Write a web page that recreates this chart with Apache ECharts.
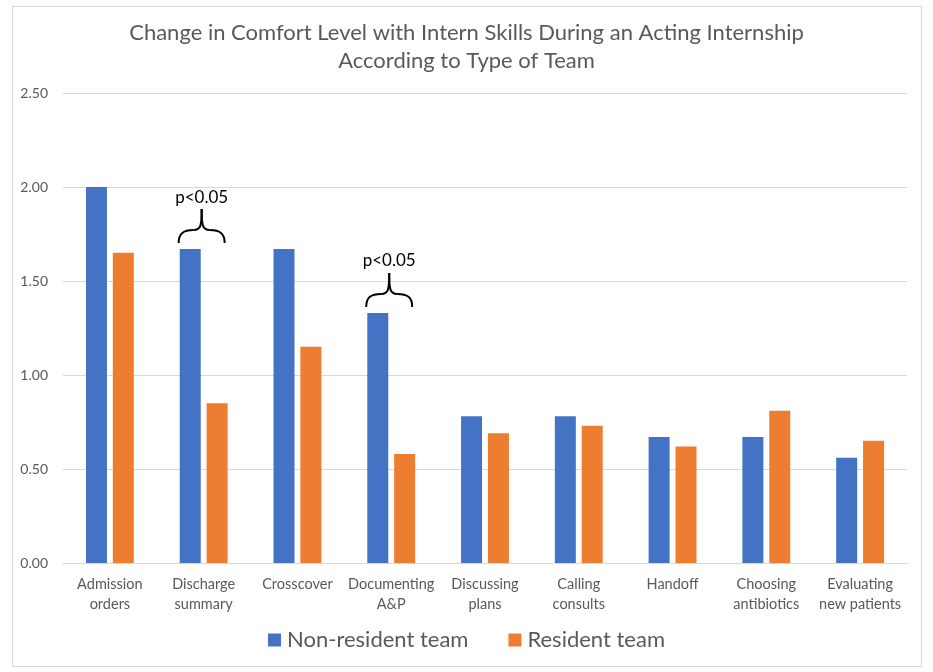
<!DOCTYPE html>
<html>
<head>
<meta charset="utf-8">
<script src="https://cdn.jsdelivr.net/npm/echarts@6/dist/echarts.min.js"></script>
<style>
html,body{margin:0;padding:0;background:#fff;}
#frame{position:absolute;left:12px;top:6px;width:910px;height:661px;border:1px solid #d9d9d9;box-sizing:border-box;}
#chart{position:absolute;left:0;top:0;width:933px;height:672px;}
</style>
</head>
<body>
<div id="frame"></div>
<div id="chart"></div>
<script>
var categories = ['Admission\norders','Discharge\nsummary','Crosscover','Documenting\nA&P','Discussing\nplans','Calling\nconsults','Handoff','Choosing\nantibiotics','Evaluating\nnew patients'];
var nonResident = [2.00, 1.67, 1.67, 1.33, 0.78, 0.78, 0.67, 0.67, 0.56];
var resident = [1.65, 0.85, 1.15, 0.58, 0.69, 0.73, 0.62, 0.81, 0.65];
var yTicks = [0, 0.5, 1.0, 1.5, 2.0, 2.5];
var annotIndex = [1, 3];
var annotText = 'p<0.05';

var FONT = 'Lato, "Open Sans", sans-serif';
var chart = echarts.init(document.getElementById('chart'), null, {renderer:'canvas'});
chart.setOption({
  animation:false,
  backgroundColor:'transparent',
  title:{
    text:'Change in Comfort Level with Intern Skills During an Acting Internship\nAccording to Type of Team',
    left:'center', top:14,
    textStyle:{fontFamily:FONT, fontSize:22, fontWeight:'normal', color:'#595959', lineHeight:28}
  },
  legend:{
    bottom:16, left:'center',
    itemWidth:13, itemHeight:13, itemGap:40,
    icon:'rect',
    textStyle:{fontFamily:FONT, fontSize:22, color:'#595959', padding:[0,0,0,1]},
    data:['Non-resident team','Resident team']
  },
  grid:{left:63, right:26, top:93, bottom:109, containLabel:false},
  xAxis:{
    type:'category', data:categories,
    axisLine:{lineStyle:{color:'#d9d9d9'}},
    axisTick:{show:false},
    axisLabel:{fontFamily:FONT, fontSize:14.5, color:'#595959', lineHeight:20, margin:11, interval:0}
  },
  yAxis:{
    type:'value', min:yTicks[0], max:yTicks[yTicks.length-1], interval:0.5,
    axisLine:{show:false}, axisTick:{show:false},
    splitLine:{lineStyle:{color:'#d9d9d9'}},
    axisLabel:{fontFamily:FONT, fontSize:14, color:'#595959', margin:15,
      formatter:function(v){return v.toFixed(2);}}
  },
  series:[
    {name:'Non-resident team', type:'bar', data:nonResident, barWidth:21, barGap:'28%',
     itemStyle:{color:'#4472c4'}},
    {name:'Resident team', type:'bar', data:resident, barWidth:21, barGap:'28%',
     itemStyle:{color:'#ed7d31'}}
  ]
});

function brace(cx, ty, s){
  var st = {fill:null, stroke:'#000', lineWidth:2};
  return [
    {type:'bezierCurve', silent:true, style:st,
     shape:{x1:cx-23*s, y1:ty+34, cpx1:cx-23*s, cpy1:ty+25, cpx2:cx-19*s, cpy2:ty+21, x2:cx-8*s, y2:ty+21}},
    {type:'bezierCurve', silent:true, style:st,
     shape:{x1:cx-8*s, y1:ty+21, cpx1:cx-1*s, cpy1:ty+21, cpx2:cx, cpy2:ty+17, x2:cx, y2:ty}}
  ];
}
function addAnnotations(){
  var els = [];
  annotIndex.forEach(function(i){
    var p = chart.convertToPixel({xAxisIndex:0, yAxisIndex:0}, [i, nonResident[i]]);
    var cx = p[0] - 2;
    var tipY = p[1] - 40;
    els = els.concat(brace(cx, tipY, 1), brace(cx, tipY, -1));
    els.push({
      type:'text', x:cx, y:tipY - 12, silent:true,
      style:{text:annotText, font:'17px ' + FONT, fill:'#000', align:'center', verticalAlign:'middle'}
    });
  });
  chart.setOption({graphic:{elements:els}});
}
addAnnotations();
</script>
</body>
</html>
